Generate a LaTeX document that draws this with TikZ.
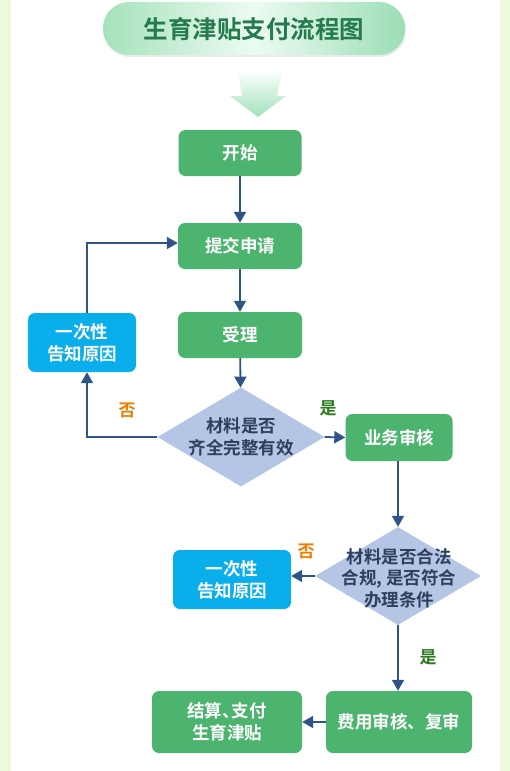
\documentclass[tikz,border=0pt]{standalone}
\usepackage{fontspec}
\setmainfont{Noto Sans CJK SC}[BoldFont={Noto Sans CJK SC Bold}]
\usetikzlibrary{arrows.meta,shapes.geometric,calc}
\definecolor{boxgreen}{HTML}{4CB46E}
\definecolor{boxblue}{HTML}{0AAEEB}
\definecolor{diafill}{HTML}{B4C5E6}
\definecolor{diatext}{HTML}{2E3F5E}
\definecolor{arrowc}{HTML}{2F5487}
\definecolor{titlec}{HTML}{257A4E}
\definecolor{bordergreen}{HTML}{EDF9DD}
\definecolor{nolabel}{HTML}{F07D00}
\definecolor{yeslabel}{HTML}{2B7A1D}
\tikzset{
  gbox/.style={draw=none, fill=boxgreen, rounded corners=7bp, text=white,
    font=\bfseries\fontsize{17.5bp}{22bp}\selectfont, align=center, inner sep=0pt},
  bbox/.style={gbox, fill=boxblue},
  dia/.style={diamond, draw=none, fill=diafill, inner sep=0pt},
  diatxt/.style={text=diatext, font=\bfseries\fontsize{17.5bp}{22bp}\selectfont, align=center, inner sep=0pt},
  conn/.style={draw=arrowc, line width=1.8bp, -{Triangle[length=11bp,width=12bp]}},
  nolab/.style={text=nolabel, font=\bfseries\fontsize{17bp}{20bp}\selectfont, inner sep=0pt},
  yeslab/.style={text=yeslabel, font=\bfseries\fontsize{17bp}{20bp}\selectfont, inner sep=0pt},
}
\begin{document}
\begin{tikzpicture}[x=1bp,y=-1bp]
\useasboundingbox (0,0) rectangle (510,771);
\fill[bordergreen] (0,0) rectangle (510,771);
\fill[white] (11,0) rectangle (500,771);
% title pill
\fill[black!8, rounded corners=26bp] (104,4) rectangle (406,57);
\shade[rounded corners=26bp, left color={rgb,255:red,165;green,226;blue,188}, right color={rgb,255:red,155;green,222;blue,182}, middle color={rgb,255:red,236;green,251;blue,241}] (103,2) rectangle (405,55);
\node[text=titlec, font=\bfseries\fontsize{24.5bp}{26bp}\selectfont, inner sep=0pt] (title) at (254,29) {生育津贴支付流程图};
% big down arrow
\shade[top color=white, bottom color={rgb,255:red,160;green,226;blue,186}] (238,70) -- (282,70) -- (277,96) -- (286,96) -- (258,117) -- (230,96) -- (242,96) -- cycle;
% nodes
\node[gbox, minimum width=123bp, minimum height=46bp] (start) at (240,153) {开始};
\node[gbox, minimum width=124bp, minimum height=46bp] (submit) at (240,246) {提交申请};
\node[gbox, minimum width=124bp, minimum height=46bp] (accept) at (240,335) {受理};
\node[bbox, minimum width=108bp, minimum height=59bp] (tell1) at (82,342.5) {一次性\\告知原因};
\node[dia, minimum width=167bp, minimum height=99bp] (d1) at (241,437) {};
\node[diatxt] (d1t) at (241,437) {材料是否\\齐全完整有效};
\node[gbox, minimum width=107bp, minimum height=47bp] (review) at (399,437.5) {业务审核};
\node[dia, minimum width=166bp, minimum height=98bp] (d2) at (398,576) {};
\node[diatxt, font=\bfseries\fontsize{17.5bp}{21.5bp}\selectfont] (d2t) at (399,578) {材料是否合法\\合规, 是否符合\\办理条件};
\node[bbox, minimum width=118bp, minimum height=59bp] (tell2) at (232,579.5) {一次性\\告知原因};
\node[gbox, minimum width=146bp, minimum height=62bp] (fee) at (399,722) {费用审核、复审};
\node[gbox, minimum width=150bp, minimum height=62bp] (settle) at (227,722) {结算\makebox[0.55em][l]{、}支付\\生育津贴};
% labels
\node[nolab] (no1) at (127,410) {否};
\node[yeslab] (yes1) at (328,408) {是};
\node[nolab] (no2) at (306,551) {否};
\node[yeslab] (yes2) at (428,657) {是};
% connectors
\draw[conn] (start) -- (submit);
\draw[conn] (submit) -- (accept);
\draw[conn] (accept) -- (d1);
\draw[conn] (d1.east) -- (review.west);
\draw[conn] (d1.west) -| ([xshift=5bp]tell1.south);
\draw[conn] ([xshift=5bp]tell1.north) |- ([yshift=3bp]submit.west);
\draw[conn] (review.south -| d2.north) -- (d2.north);
\draw[conn] (d2.west) -- (d2.west -| tell2.east);
\draw[conn] (d2.south) -- (d2.south |- fee.north);
\draw[conn] (fee.west) -- (settle.east);
\end{tikzpicture}
\end{document}
